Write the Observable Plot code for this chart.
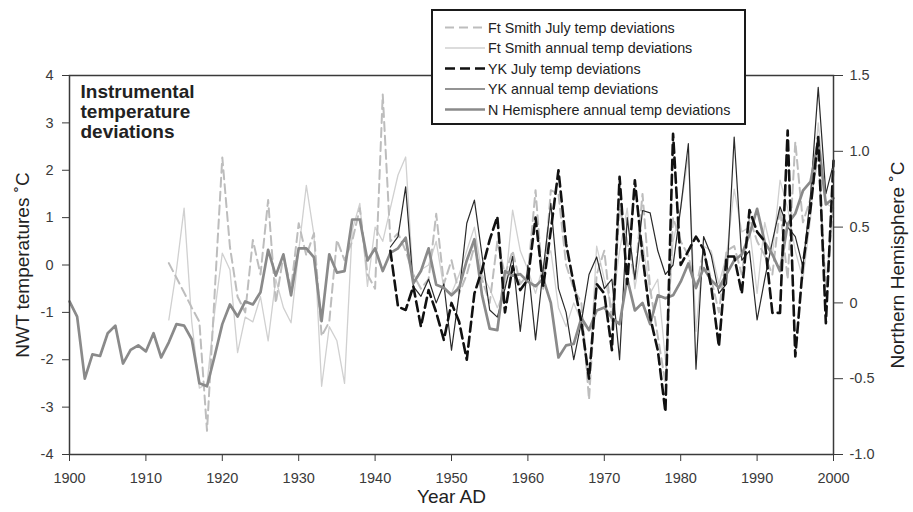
<!DOCTYPE html>
<html><head><meta charset="utf-8">
<script src="https://cdn.jsdelivr.net/npm/d3@7"></script>
<script src="https://cdn.jsdelivr.net/npm/@observablehq/plot@0.6"></script>
<style>
body{margin:0;background:#fff;}
#wrap{position:relative;width:913px;height:512px;font-family:"Liberation Sans",Arial,sans-serif;}
#legend{position:absolute;left:431px;top:9px;width:311px;height:112px;border:2px solid #1a1a1a;background:#fff;}
</style></head><body><div id="wrap"><div id="legend"></div></div>
<script>
// ---- data ----
const xTicks = [1900,1910,1920,1930,1940,1950,1960,1970,1980,1990,2000];
const leftTicks = [-4,-3,-2,-1,0,1,2,3,4];
const rightTickValues = [-1,-0.5,0,0.5,1,1.5];
const rightTickLabels = ["-1.0","-0.5","0","0.5","1.0","1.5"];

const nhStart = 1900; // Northern Hemisphere annual deviations (right axis, °C)
const nhAnnual = [
 0.01,-0.09,-0.50,-0.34,-0.35,-0.20,-0.15,-0.40,-0.31,-0.28,
 -0.32,-0.20,-0.36,-0.26,-0.14,-0.15,-0.24,-0.53,-0.55,-0.35,
 -0.14,-0.01,-0.09,0.01,-0.01,0.07,0.35,0.18,0.32,0.05,
 0.36,0.36,0.30,-0.12,0.32,0.20,0.21,0.55,0.55,0.28,
 0.36,0.21,0.33,0.36,0.43,0.13,0.21,0.36,0.12,0.10,
 0.05,0.10,0.28,0.42,0.05,-0.17,-0.18,0.21,0.18,0.19,
 0.14,0.11,0.16,0.00,-0.36,-0.28,-0.27,-0.10,-0.18,-0.05,
 -0.03,-0.10,-0.14,0.16,-0.05,0.00,-0.14,0.05,0.03,0.05,
 0.14,0.26,0.10,0.23,0.15,0.10,0.19,0.28,0.32,0.45,
 0.62,0.40,0.32,0.21,0.52,0.59,0.74,0.80,1.07,0.65,
 0.69];

const ftSmithStart = 1913;
const ftSmithAnnual = [
 -1.16,-0.1,1.2,-1.2,-2.6,-2.5,-1.0,
 0.25,-0.1,-1.85,-1.1,-1.2,-0.67,-1.6,-0.3,-0.9,-1.22,
 0.3,1.68,0.63,-2.56,-1.3,-1.6,-2.5,0.73,1.3,-0.45,
 0.8,0.5,1.2,1.9,2.28,-0.4,-0.1,0.0,0.5,-0.5,
 -0.6,-0.2,0.3,0.8,-0.2,-0.5,-0.9,-0.5,1.16,0.3,
 -0.1,-0.6,0.0,0.3,-0.9,-1.3,-0.8,-1.2,-2.5,0.4,
 -0.3,-0.9,0.3,1.2,-0.5,0.5,-0.6,-0.3,-2.0,0.5,
 1.2,2.3,-1.4,0.4,0.3,-0.4,0.2,1.6,0.7,0.8,
 -0.6,0.9,0.2,1.79,1.2,0.3,-0.3,1.0,3.0,1.3,
 1.2];
const ftSmithJuly = [
 0.04,-0.27,-0.58,-0.9,-1.2,-3.5,-0.6,
 2.27,0.38,-0.67,-1.0,0.53,-0.2,1.37,-0.8,0.2,-0.5,
 0.88,0.2,0.67,-1.5,-1.2,0.53,0.1,0.5,1.2,-0.2,
 -0.5,3.6,0.5,0.67,0.3,-0.2,-0.5,-0.3,1.08,-0.4,
 0.1,-0.6,-0.2,0.4,-0.3,-0.8,0.5,-0.2,0.3,-0.4,
 -0.2,1.58,-0.5,1.58,1.5,0.0,-0.5,-0.8,-2.84,-0.2,
 0.3,-1.2,1.2,0.5,-0.3,1.5,-0.5,-1.5,-2.5,1.0,
 0.5,0.2,-0.5,0.3,-0.3,-1.0,0.3,0.4,-0.2,1.0,
 0.5,0.2,-0.2,1.2,-0.3,2.6,0.9,1.4,2.3,-0.5,
 1.3];

const ykStart = 1942;
const ykAnnual = [
 0.38,0.6,1.65,-0.45,-0.66,-0.3,-0.8,-0.4,
 -1.8,-0.6,0.88,1.37,0.2,-0.95,-1.1,-0.5,0.18,-1.4,
 0.0,-1.58,-0.1,1.3,-0.5,-1.0,-2.0,-1.2,-0.2,0.17,
 -0.5,-0.3,-2.0,1.0,-0.3,1.15,1.1,0.3,-0.2,0.0,
 1.2,2.56,-2.2,0.6,0.2,-0.6,-0.4,2.7,0.1,0.3,
 -1.16,-0.3,0.5,1.23,0.8,0.6,-0.04,1.5,3.75,1.5,
 2.14];
const ykJuly = [
 0.3,-0.88,-0.95,-0.45,-1.3,-0.53,-1.0,-1.58,
 -0.8,-1.2,-2.0,-0.6,-0.1,0.53,1.02,-1.0,-0.03,-0.53,
 -0.3,1.0,-0.46,0.73,2.0,0.45,-0.4,-1.2,-2.4,-0.4,
 -0.6,-1.8,1.86,-0.4,1.79,0.2,-1.1,-1.8,-3.1,2.77,
 0.0,0.3,0.6,0.33,-0.46,-1.72,0.18,0.18,-0.6,1.16,
 0.7,0.5,-1.01,-1.01,2.84,-1.93,0.0,1.2,2.7,-1.23,
 2.2];

const legendLabels = ["Ft Smith July temp deviations","Ft Smith annual temp deviations","YK July temp deviations","YK annual temp deviations","N Hemisphere annual temp deviations"];

// ---- styles ----
const S = {
  ftJuly: {stroke:"#bdbdbd", strokeWidth:2, strokeDasharray:"9,5"},
  ftAnn:  {stroke:"#d0d0d0", strokeWidth:1.3},
  ykJuly: {stroke:"#111", strokeWidth:2.6, strokeDasharray:"10,5"},
  ykAnn:  {stroke:"#2a2a2a", strokeWidth:1.2},
  nh:     {stroke:"#8a8a8a", strokeWidth:2.7}
};

// right axis (-1.0..1.5) maps onto left axis (-4..4)
const nhToLeft = r => -4 + (r + 1) * 8 / 2.5;

const nhRows = nhAnnual.map((v,i)=>({year:nhStart+i, value:v}));
const ftRows = ftSmithAnnual.map((v,i)=>({year:ftSmithStart+i, annual:v, july:ftSmithJuly[i]}));
const ykRows = ykAnnual.map((v,i)=>({year:ykStart+i, annual:v, july:ykJuly[i]}));

const font = "'Liberation Sans', Arial, Helvetica, sans-serif";

const chart = Plot.plot({
  width: 913, height: 512,
  marginLeft: 69, marginRight: 80, marginTop: 75, marginBottom: 58,
  x: {domain: [1900, 2000]},
  y: {domain: [-4, 4]},
  style: {fontFamily: font, fontSize: "14.5px", color: "#3a3a3a", background: "white"},
  marks: [
    Plot.axisX({ticks: xTicks, tickFormat: d => String(d), tickSize: 7, tickPadding: 11, label: null}),
    Plot.axisY({ticks: leftTicks, tickFormat: d => String(d), tickSize: 7, tickPadding: 9, label: null}),
    Plot.axisY({anchor: "right", ticks: rightTickValues.map(nhToLeft),
      tickFormat: d => rightTickLabels[rightTickValues.findIndex(v => Math.abs(nhToLeft(v) - d) < 1e-6)],
      tickSize: 9, tickPadding: 7, label: null}),
    Plot.lineY(ftRows, {x:"year", y:"annual", ...S.ftAnn}),
    Plot.lineY(ftRows, {x:"year", y:"july", ...S.ftJuly}),
    Plot.lineY(ykRows, {x:"year", y:"annual", ...S.ykAnn}),
    Plot.lineY(nhRows, {x:"year", y: d => nhToLeft(d.value), ...S.nh}),
    Plot.lineY(ykRows, {x:"year", y:"july", ...S.ykJuly}),
    Plot.frame({stroke:"#3a3a3a", strokeWidth:1.5}),
    Plot.text(["Instrumental\ntemperature\ndeviations"], {frameAnchor:"top-left", dx:11, dy:8, textAnchor:"start", lineAnchor:"top", fontSize:19, fontWeight:"bold", lineHeight:1.05, fill:"#222"}),
    Plot.text(["NWT temperatures ˚C"], {frameAnchor:"left", dx:-47, rotate:-90, textAnchor:"middle", fontSize:19, fill:"#222"}),
    Plot.text(["Northern Hemisphere ˚C"], {frameAnchor:"right", dx:64, rotate:-90, textAnchor:"middle", fontSize:19, fill:"#222"}),
    Plot.text(["Year AD"], {frameAnchor:"bottom", dy:48, fontSize:19, fill:"#222"})
  ]
});
document.getElementById("wrap").prepend(chart);

// ---- legend ----
const leg = d3.select("#legend").append("svg").attr("width",311).attr("height",112)
  .style("font-family", font).style("font-size","14.3px");
const legStyles = [S.ftJuly, S.ftAnn, S.ykJuly, S.ykAnn, S.nh];
legendLabels.forEach((lab,i) => {
  const y = 16.5 + i*20.5;
  const st = legStyles[i];
  leg.append("line").attr("x1",12).attr("x2",52).attr("y1",y).attr("y2",y)
    .attr("stroke",st.stroke).attr("stroke-width",st.strokeWidth)
    .attr("stroke-dasharray",st.strokeDasharray||null);
  leg.append("text").attr("x",55).attr("y",y).attr("dy","0.35em").attr("fill","#222").text(lab);
});
</script></body></html>
